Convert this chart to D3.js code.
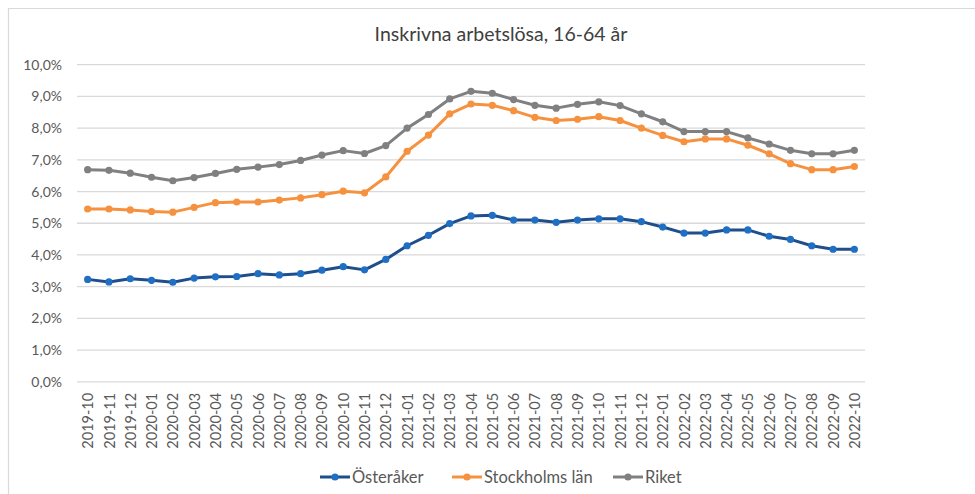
<!DOCTYPE html>
<html>
<head>
<meta charset="utf-8">
<script src="https://cdn.jsdelivr.net/npm/d3@7"></script>
<style>
  body { margin: 0; background: #fff; }
  svg { display: block; font-family: Lato, "Open Sans", sans-serif; }
</style>
</head>
<body>
<div id="chart"></div>
<script>
// månader 2019-10 .. 2022-10
var months = ["2019-10","2019-11","2019-12","2020-01","2020-02","2020-03","2020-04","2020-05","2020-06","2020-07","2020-08","2020-09","2020-10","2020-11","2020-12",
  "2021-01","2021-02","2021-03","2021-04","2021-05","2021-06","2021-07","2021-08","2021-09","2021-10","2021-11","2021-12",
  "2022-01","2022-02","2022-03","2022-04","2022-05","2022-06","2022-07","2022-08","2022-09","2022-10"];

var osteraker = [3.23,3.15,3.25,3.20,3.14,3.27,3.31,3.32,3.41,3.37,3.41,3.52,3.63,3.53,3.86,
  4.29,4.62,4.99,5.23,5.25,5.10,5.10,5.03,5.10,5.14,5.14,5.05,
  4.88,4.69,4.69,4.79,4.79,4.59,4.49,4.29,4.18,4.18];

var stockholm = [5.45,5.45,5.42,5.37,5.35,5.50,5.65,5.67,5.67,5.73,5.80,5.90,6.01,5.96,6.46,
  7.27,7.78,8.45,8.76,8.72,8.55,8.34,8.24,8.28,8.36,8.24,8.00,
  7.77,7.57,7.66,7.66,7.46,7.19,6.88,6.69,6.69,6.79];

var riket = [6.69,6.67,6.58,6.45,6.34,6.44,6.57,6.70,6.77,6.85,6.98,7.15,7.29,7.20,7.45,
  8.00,8.43,8.92,9.16,9.10,8.90,8.72,8.63,8.75,8.83,8.71,8.45,
  8.20,7.89,7.89,7.89,7.69,7.50,7.30,7.19,7.19,7.30];

var yTicks = [0,1,2,3,4,5,6,7,8,9,10];

var series = [
  {name: "Österåker", values: osteraker, line: "#1f4e8c", dot: "#1f6fc5"},
  {name: "Stockholms län", values: stockholm, line: "#f6923f", dot: "#f6923f"},
  {name: "Riket", values: riket, line: "#808080", dot: "#808080"}
];

var W = 975, H = 494;
var svg = d3.select("#chart").append("svg")
  .attr("width", W).attr("height", H);

// ram (bara topp och vänster syns)
svg.append("line").attr("x1", 8).attr("x2", W).attr("y1", 8.5).attr("y2", 8.5)
  .attr("stroke", "#d9d9d9").attr("stroke-width", 1.2);
svg.append("line").attr("x1", 8.5).attr("x2", 8.5).attr("y1", 8).attr("y2", H)
  .attr("stroke", "#d9d9d9").attr("stroke-width", 1.2);

svg.append("text")
  .attr("x", 501).attr("y", 41)
  .attr("text-anchor", "middle")
  .style("font-size", "19.5px")
  .style("fill", "#404040")
  .text("Inskrivna arbetslösa, 16-64 år");

var x = d3.scalePoint().domain(months).range([77, 865]).padding(0.5);
var y = d3.scaleLinear().domain([0, 10]).range([381.8, 64.7]);

// rutnät
svg.append("g").selectAll("line")
  .data(yTicks).enter().append("line")
  .attr("x1", 77).attr("x2", 865)
  .attr("y1", function(d) { return y(d); })
  .attr("y2", function(d) { return y(d); })
  .attr("stroke", "#d9d9d9").attr("stroke-width", 1.3);

// y-axel
var yAxis = svg.append("g")
  .attr("transform", "translate(62,0)")
  .call(d3.axisLeft(y).tickValues(yTicks).tickSize(0)
    .tickFormat(function(d) { return d3.format(".1f")(d).replace(".", ",") + "%"; }));
yAxis.select(".domain").remove();
yAxis.selectAll("text")
  .attr("x", 0)
  .style("font-family", "Lato, sans-serif")
  .style("font-size", "14px")
  .style("fill", "#595959");

// x-axel
var xAxis = svg.append("g")
  .attr("transform", "translate(0,381.8)")
  .call(d3.axisBottom(x).tickSize(0));
xAxis.select(".domain").remove();
xAxis.selectAll("text")
  .attr("transform", "rotate(-90)")
  .attr("x", -11)
  .attr("y", 0)
  .attr("dy", ".35em")
  .style("text-anchor", "end")
  .style("font-family", "Lato, sans-serif")
  .style("font-size", "14.5px")
  .style("fill", "#595959");

var line = d3.line()
  .x(function(d, i) { return x(months[i]); })
  .y(function(d) { return y(d); });

series.forEach(function(s) {
  svg.append("path")
    .datum(s.values)
    .attr("fill", "none")
    .attr("stroke", s.line)
    .attr("stroke-width", 3)
    .attr("stroke-linejoin", "round")
    .attr("d", line);
  svg.append("g").selectAll("circle")
    .data(s.values).enter().append("circle")
    .attr("cx", function(d, i) { return x(months[i]); })
    .attr("cy", function(d) { return y(d); })
    .attr("r", 3.6)
    .attr("fill", s.dot);
});

// legend
var legendX = [320, 452, 613];
var legend = svg.append("g").selectAll("g")
  .data(series).enter().append("g")
  .attr("transform", function(d, i) { return "translate(" + legendX[i] + ",477)"; });
legend.append("line")
  .attr("x1", 0).attr("x2", 30).attr("y1", 0).attr("y2", 0)
  .attr("stroke", function(d) { return d.line; })
  .attr("stroke-width", 3);
legend.append("circle")
  .attr("cx", 15).attr("cy", 0).attr("r", 3.6)
  .attr("fill", function(d) { return d.dot; });
legend.append("text")
  .attr("x", 32).attr("y", 0).attr("dy", ".35em")
  .style("font-size", "16.5px")
  .style("fill", "#595959")
  .text(function(d) { return d.name; });
</script>
</body>
</html>
